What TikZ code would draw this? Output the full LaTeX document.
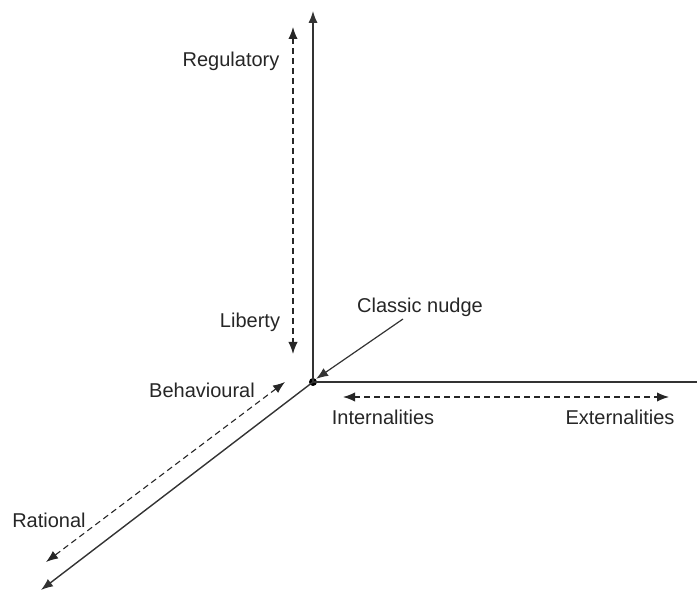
\documentclass[tikz,border=0pt]{standalone}
\usepackage{fontspec}
\setmainfont{Liberation Sans}
\usepackage{tikz}
\usetikzlibrary{positioning,arrows.meta}

\begin{document}
\begin{tikzpicture}[
    x=0.5pt, y=-0.5pt,
    % define styles
    axis/.style={
        draw=black!80,
        line width=0.7pt
    },
    spanline/.style={
        draw=black!85,
        line width=0.55pt,
        dash pattern=on 3pt off 2pt
    },
    lbl/.style={
        font=\fontsize{10}{12}\selectfont,
        text=black!85,
        inner sep=0
    },
    >={Latex[length=6pt,width=4.6pt]}
]
\useasboundingbox (0,0) rectangle (697,592);

% origin and axis ends
\node[circle, fill=black, inner sep=0, minimum size=4pt] (o) at (313,382) {};
\coordinate (up) at (313,11);
\coordinate (right) at (697,382);
\coordinate (down) at (41,590);

% axes
\draw[axis,->] (o.center) -- (up);
\draw[axis] (o.center) -- (right);
\draw[axis,->] (o.center) -- (down);

% dashed ranges
\coordinate (vtop) at (293,27);
\coordinate (vbot) at (293,354);
\coordinate (hl) at (343,397);
\coordinate (hr) at (669,397);
\coordinate (dtop) at (285,382);
\coordinate (dbot) at (46,562);
\draw[spanline,<->] (vtop) -- (vbot);
\draw[spanline,<->] (hl) -- (hr);
\draw[spanline,<->] (dtop) -- (dbot);

% labels
\node[lbl] (reg) at (231,61) {Regulatory};
\node[lbl] (lib) at (250,322) {Liberty};
\node[lbl] (beh) at (202,390) {Behavioural};
\node[lbl] (int) at (383,417) {Internalities};
\node[lbl] (ext) at (620,417) {Externalities};
\node[lbl] (rat) at (49,520) {Rational};
\node[lbl] (nudge) at (420,307) {Classic nudge};

% pointer to the classic nudge
\coordinate (ns) at (403,319);
\draw[axis,->, line width=0.6pt] (ns) -- (o.north east);
\end{tikzpicture}
\end{document}
